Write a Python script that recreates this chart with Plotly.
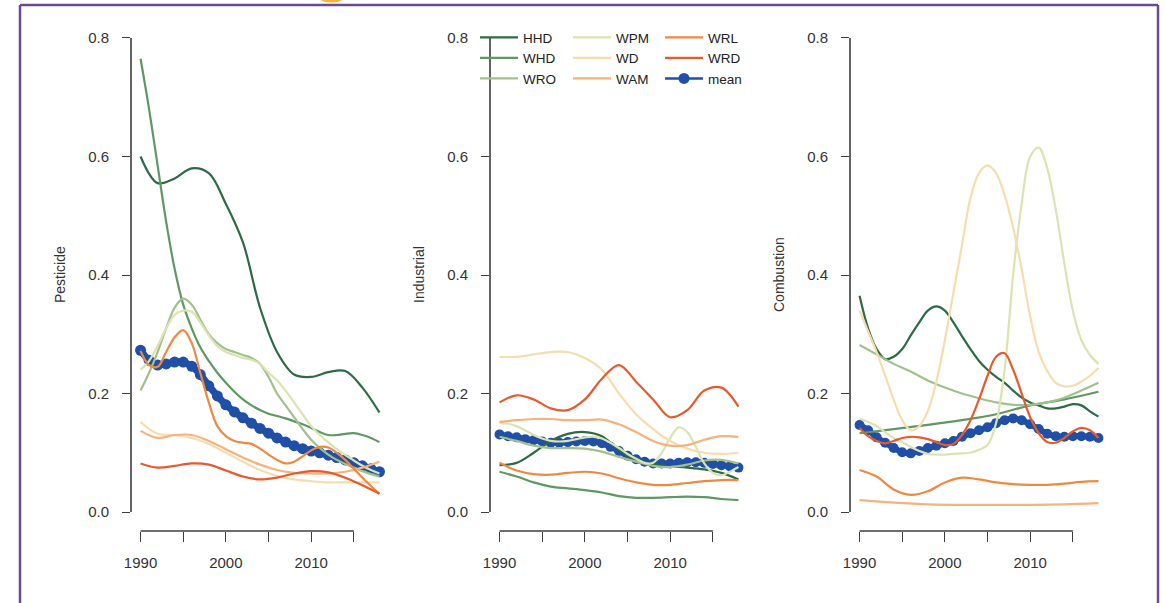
import plotly.graph_objects as go

W, H = 1166, 603

# ---- sampling years -------------------------------------------------------
YEARS = list(range(1990, 2019))          # yearly
YEARS_2 = list(range(1990, 2019, 2))     # every second year
YEARS_4 = list(range(1990, 2019, 4))     # every fourth year

SERIES = ["HHD", "WHD", "WRO", "WPM", "WD", "WAM", "WRL", "WRD"]
COLORS = {
    "HHD": "#2c6b45", "WHD": "#5f9863", "WRO": "#a2c08c", "WPM": "#d9e4b1",
    "WD": "#f7dcae", "WAM": "#f4b27c", "WRL": "#ef8940", "WRD": "#e85a2e",
    "mean": "#1f4fa6",
}
PANEL_TITLES = ["Pesticide", "Industrial", "Combustion"]
MEAN_DOT = [11, 10, 10]
Y_TICKS = [0.0, 0.2, 0.4, 0.6, 0.8]
Y_TICK_TEXT = ["0.0", "0.2", "0.4", "0.6", "0.8"]
X_TICKS = [1990, 1995, 2000, 2005, 2010, 2015]
X_TICK_TEXT = ["1990", "", "2000", "", "2010", ""]

# ---- Pesticide ------------------------------------------------------------
PEST_HHD = [0.600, 0.555, 0.563, 0.580, 0.572, 0.520, 0.455, 0.345, 0.270,
            0.232, 0.228, 0.236, 0.238, 0.210, 0.168]
PEST_WHD = [0.765, 0.680, 0.585, 0.490, 0.410, 0.350, 0.310, 0.278, 0.255,
            0.235, 0.218, 0.203, 0.190, 0.180, 0.172, 0.166, 0.162, 0.158,
            0.153, 0.148, 0.142, 0.135, 0.130, 0.130, 0.132, 0.133, 0.130,
            0.125, 0.118]
PEST_WRO = [0.205, 0.235, 0.270, 0.310, 0.345, 0.360, 0.350, 0.325, 0.300,
            0.285, 0.275, 0.270, 0.265, 0.260, 0.250, 0.228, 0.200, 0.180,
            0.160, 0.140, 0.122, 0.108, 0.097, 0.088, 0.081, 0.075, 0.069,
            0.064, 0.060]
PEST_WPM = [0.240, 0.255, 0.280, 0.310, 0.333, 0.340, 0.338, 0.320, 0.298,
            0.280, 0.270, 0.265, 0.260, 0.257, 0.250, 0.235, 0.222, 0.205,
            0.185, 0.165, 0.145, 0.130, 0.118, 0.106, 0.096, 0.087, 0.078,
            0.071, 0.065]
PEST_WD = [0.152, 0.132, 0.130, 0.125, 0.115, 0.100, 0.085, 0.071, 0.061,
           0.055, 0.052, 0.050, 0.050, 0.050, 0.050]
PEST_WAM = [0.137, 0.125, 0.130, 0.130, 0.120, 0.106, 0.092, 0.080, 0.071,
            0.066, 0.065, 0.065, 0.068, 0.075, 0.085]
PEST_WRL = [0.272, 0.248, 0.245, 0.270, 0.295, 0.307, 0.285, 0.235, 0.185,
            0.145, 0.128, 0.120, 0.117, 0.115, 0.107, 0.097, 0.088, 0.082,
            0.085, 0.094, 0.104, 0.110, 0.109, 0.100, 0.088, 0.073, 0.058,
            0.044, 0.031]
PEST_WRD = [0.082, 0.075, 0.078, 0.082, 0.080, 0.070, 0.060, 0.055, 0.058,
            0.065, 0.069, 0.067, 0.058, 0.045, 0.031]
PEST_MEAN = [0.273, 0.256, 0.248, 0.250, 0.253, 0.253, 0.246, 0.232, 0.213,
             0.196, 0.181, 0.169, 0.159, 0.150, 0.141, 0.133, 0.125, 0.118,
             0.112, 0.107, 0.103, 0.100, 0.096, 0.092, 0.088, 0.083, 0.078,
             0.073, 0.068]

# ---- Industrial -----------------------------------------------------------
IND_HHD = [0.079, 0.083, 0.100, 0.120, 0.132, 0.135, 0.128, 0.105, 0.087,
           0.080, 0.077, 0.075, 0.072, 0.066, 0.055]
IND_WHD = [0.068, 0.060, 0.050, 0.043, 0.040, 0.037, 0.033, 0.027, 0.024,
           0.024, 0.025, 0.026, 0.025, 0.022, 0.020]
IND_WRO = [0.127, 0.120, 0.112, 0.108, 0.108, 0.107, 0.102, 0.093, 0.085,
           0.078, 0.076, 0.080, 0.087, 0.088, 0.082]
IND_WPM = [0.150, 0.149, 0.145, 0.138, 0.130, 0.124, 0.120, 0.119, 0.120,
           0.123, 0.126, 0.127, 0.124, 0.117, 0.108, 0.098, 0.090, 0.083,
           0.083, 0.100, 0.125, 0.143, 0.135, 0.110, 0.082, 0.066, 0.062,
           0.068, 0.076]
IND_WD = [0.262, 0.262, 0.266, 0.270, 0.270, 0.260, 0.240, 0.200, 0.165,
          0.140, 0.120, 0.107, 0.100, 0.098, 0.100]
IND_WAM = [0.152, 0.155, 0.157, 0.157, 0.155, 0.155, 0.156, 0.148, 0.135,
           0.120, 0.112, 0.113, 0.122, 0.128, 0.127]
IND_WRL = [0.083, 0.070, 0.064, 0.063, 0.066, 0.068, 0.065, 0.057, 0.050,
           0.046, 0.046, 0.049, 0.052, 0.054, 0.054]
IND_WRD = [0.185, 0.197, 0.190, 0.175, 0.172, 0.190, 0.225, 0.248, 0.220,
           0.190, 0.160, 0.172, 0.205, 0.210, 0.178]
IND_MEAN = [0.131, 0.128, 0.126, 0.123, 0.121, 0.119, 0.117, 0.117, 0.118,
            0.119, 0.120, 0.119, 0.116, 0.110, 0.103, 0.095, 0.089, 0.085,
            0.082, 0.082, 0.082, 0.083, 0.084, 0.084, 0.083, 0.081, 0.079,
            0.077, 0.075]

# ---- Combustion -----------------------------------------------------------
COMB_HHD = [0.365, 0.310, 0.275, 0.258, 0.262, 0.275, 0.298, 0.320, 0.340,
            0.347, 0.340, 0.320, 0.297, 0.275, 0.255, 0.240, 0.228, 0.218,
            0.205, 0.193, 0.185, 0.180, 0.175, 0.175, 0.178, 0.182, 0.180,
            0.170, 0.161]
COMB_WHD = [0.133, 0.140, 0.147, 0.155, 0.165, 0.180, 0.190, 0.203]
COMB_WRO = [0.282, 0.266, 0.250, 0.237, 0.222, 0.210, 0.200, 0.192, 0.185,
            0.181, 0.181, 0.185, 0.193, 0.205, 0.218]
COMB_WPM = [0.158, 0.152, 0.145, 0.135, 0.125, 0.118, 0.110, 0.103, 0.098,
            0.097, 0.097, 0.098, 0.099, 0.100, 0.105, 0.113, 0.150, 0.240,
            0.400, 0.520, 0.600, 0.615, 0.580, 0.510, 0.420, 0.340, 0.290,
            0.265, 0.250]
COMB_WD = [0.340, 0.305, 0.270, 0.230, 0.190, 0.155, 0.138, 0.145, 0.170,
           0.220, 0.290, 0.370, 0.450, 0.530, 0.572, 0.585, 0.572, 0.535,
           0.480, 0.410, 0.330, 0.270, 0.238, 0.218, 0.212, 0.213, 0.220,
           0.230, 0.243]
COMB_WAM = [0.020, 0.016, 0.013, 0.012, 0.012, 0.012, 0.013, 0.015]
COMB_WRL = [0.071, 0.060, 0.038, 0.029, 0.035, 0.050, 0.058, 0.055, 0.050,
            0.047, 0.046, 0.046, 0.048, 0.051, 0.052]
COMB_WRD = [0.142, 0.128, 0.120, 0.116, 0.120, 0.125, 0.127, 0.126, 0.123,
            0.118, 0.113, 0.115, 0.130, 0.155, 0.190, 0.230, 0.262, 0.268,
            0.240, 0.200, 0.160, 0.133, 0.118, 0.117, 0.125, 0.136, 0.142,
            0.138, 0.125]
COMB_MEAN = [0.147, 0.138, 0.126, 0.117, 0.108, 0.101, 0.099, 0.103, 0.108,
             0.112, 0.116, 0.120, 0.127, 0.133, 0.138, 0.143, 0.150, 0.155,
             0.158, 0.155, 0.148, 0.140, 0.132, 0.128, 0.127, 0.128, 0.128,
             0.127, 0.125]

PANELS = [
    {"HHD": (YEARS_2, PEST_HHD), "WHD": (YEARS, PEST_WHD), "WRO": (YEARS, PEST_WRO),
     "WPM": (YEARS, PEST_WPM), "WD": (YEARS_2, PEST_WD), "WAM": (YEARS_2, PEST_WAM),
     "WRL": (YEARS, PEST_WRL), "WRD": (YEARS_2, PEST_WRD), "mean": (YEARS, PEST_MEAN)},
    {"HHD": (YEARS_2, IND_HHD), "WHD": (YEARS_2, IND_WHD), "WRO": (YEARS_2, IND_WRO),
     "WPM": (YEARS, IND_WPM), "WD": (YEARS_2, IND_WD), "WAM": (YEARS_2, IND_WAM),
     "WRL": (YEARS_2, IND_WRL), "WRD": (YEARS_2, IND_WRD), "mean": (YEARS, IND_MEAN)},
    {"HHD": (YEARS, COMB_HHD), "WHD": (YEARS_4, COMB_WHD), "WRO": (YEARS_2, COMB_WRO),
     "WPM": (YEARS, COMB_WPM), "WD": (YEARS, COMB_WD), "WAM": (YEARS_4, COMB_WAM),
     "WRL": (YEARS_2, COMB_WRL), "WRD": (YEARS, COMB_WRD), "mean": (YEARS, COMB_MEAN)},
]

# legend columns (three keys per column, filled top to bottom)
LEGEND_COLUMNS = [["HHD", "WHD", "WRO"], ["WPM", "WD", "WAM"], ["WRL", "WRD", "mean"]]

# ---- geometry (pixels) ----------------------------------------------------
AXIS_LEFT_PX = [131, 490, 850]
PLOT_W_PX = 258
PLOT_TOP_PX, PLOT_BOTTOM_PX = 19, 531
FONT = "Liberation Sans, Arial, Helvetica, sans-serif"
AXIS_COLOR = "#3d3d3d"
TEXT_COLOR = "#333333"


def px_x(px):
    return px / W


def px_y(px):
    return 1 - px / H


fig = go.Figure()

legend_of = {}
for col, keys in enumerate(LEGEND_COLUMNS):
    for k in keys:
        legend_of[k] = "legend" if col == 0 else f"legend{col + 1}"

for p, data in enumerate(PANELS):
    xa = "x" if p == 0 else f"x{p + 1}"
    ya = "y" if p == 0 else f"y{p + 1}"
    # mean drawn first so the individual sites sit on top of it:
    # a thick band underneath, then the dotted line that carries the key
    yrs, vals = data["mean"]
    fig.add_trace(go.Scatter(
        x=yrs, y=vals, name="mean", mode="lines",
        line=dict(color=COLORS["mean"], width=MEAN_DOT[p] - 4, shape="spline"),
        xaxis=xa, yaxis=ya, showlegend=False, hoverinfo="skip"))
    fig.add_trace(go.Scatter(
        x=yrs, y=vals, name="mean", mode="lines+markers",
        line=dict(color=COLORS["mean"], width=2.5, shape="spline"),
        marker=dict(color=COLORS["mean"], size=MEAN_DOT[p]),
        xaxis=xa, yaxis=ya, showlegend=(p == 0), legend=legend_of["mean"],
        legendrank=9, hoverinfo="skip"))
    for rank, s in enumerate(SERIES):
        yrs, vals = data[s]
        fig.add_trace(go.Scatter(
            x=yrs, y=vals, name=s, mode="lines",
            line=dict(color=COLORS[s], width=2.2, shape="spline", smoothing=1.0),
            xaxis=xa, yaxis=ya, showlegend=(p == 0), legend=legend_of[s],
            legendrank=rank + 1, hoverinfo="skip"))

layout = dict(
    template="none",
    width=W, height=H, margin=dict(l=0, r=0, t=0, b=0, pad=0, autoexpand=False),
    paper_bgcolor="white", plot_bgcolor="white",
    font=dict(family=FONT, size=15, color=TEXT_COLOR),
    showlegend=True, hovermode=False,
)

shapes = []
annotations = []
for p in range(3):
    sx = "" if p == 0 else str(p + 1)
    x0 = px_x(AXIS_LEFT_PX[p])
    x1 = px_x(AXIS_LEFT_PX[p] + PLOT_W_PX)
    layout[f"xaxis{sx}"] = dict(
        domain=[x0, x1], range=[1988.88, 2019.12], anchor=f"y{sx}",
        automargin=False, showgrid=False, zeroline=False, showline=False,
        tickmode="array", tickvals=X_TICKS, ticktext=X_TICK_TEXT,
        ticks="outside", ticklen=10, tickwidth=1.4, tickcolor=AXIS_COLOR,
        ticklabelstandoff=8,
        tickfont=dict(family=FONT, size=15, color=TEXT_COLOR))
    layout[f"yaxis{sx}"] = dict(
        domain=[px_y(PLOT_BOTTOM_PX), px_y(PLOT_TOP_PX)], range=[-0.032, 0.832],
        anchor=f"x{sx}", automargin=False, showgrid=False, zeroline=False,
        showline=False, tickmode="array", tickvals=Y_TICKS, ticktext=Y_TICK_TEXT,
        ticks="outside", ticklen=8, tickwidth=1.4, tickcolor=AXIS_COLOR,
        ticklabelstandoff=10,
        tickfont=dict(family=FONT, size=15, color=TEXT_COLOR))
    # R-style axis lines spanning only the tick range
    shapes.append(dict(type="line", xref=f"x{sx} domain", yref=f"y{sx}",
                       x0=0, x1=0, y0=Y_TICKS[0], y1=Y_TICKS[-1],
                       line=dict(color=AXIS_COLOR, width=1.6)))
    shapes.append(dict(type="line", xref=f"x{sx}", yref=f"y{sx} domain",
                       x0=X_TICKS[0], x1=X_TICKS[-1], y0=0, y1=0,
                       line=dict(color=AXIS_COLOR, width=1.6)))
    annotations.append(dict(
        text=PANEL_TITLES[p], xref="paper", yref="paper",
        x=px_x(AXIS_LEFT_PX[p] - 71), y=px_y((PLOT_TOP_PX + PLOT_BOTTOM_PX) / 2),
        textangle=-90, showarrow=False, xanchor="center", yanchor="middle",
        font=dict(family=FONT, size=14, color=TEXT_COLOR)))

# legends: three stacked columns inside the middle panel
LEGEND_LEFT_PX = [475, 568, 660]
for col in range(3):
    key = "legend" if col == 0 else f"legend{col + 1}"
    layout[key] = dict(
        x=px_x(LEGEND_LEFT_PX[col]), y=px_y(22), xanchor="left", yanchor="top",
        bgcolor="rgba(0,0,0,0)", borderwidth=0, tracegroupgap=0,
        traceorder="normal", itemwidth=38,
        font=dict(family=FONT, size=13.5, color="#222222"))

# outer frame (open at the bottom) and the small ornament above it
FRAME = "#6a4b8f"
fl, fr, ft = px_x(20), px_x(1158), px_y(5)
shapes += [
    dict(type="line", xref="paper", yref="paper", x0=fl, x1=fr, y0=ft, y1=ft,
         line=dict(color=FRAME, width=2.5)),
    dict(type="line", xref="paper", yref="paper", x0=fl, x1=fl, y0=ft, y1=-0.05,
         line=dict(color=FRAME, width=2.5)),
    dict(type="line", xref="paper", yref="paper", x0=fr, x1=fr, y0=ft, y1=-0.05,
         line=dict(color=FRAME, width=2.5)),
    dict(type="circle", xref="paper", yref="paper", x0=px_x(320), x1=px_x(343),
         y0=px_y(2.5), y1=px_y(-6), fillcolor="#f5b43a", line=dict(width=0)),
]

layout["shapes"] = shapes
layout["annotations"] = annotations
fig.update_layout(**layout)

fig.write_html("out.html")
